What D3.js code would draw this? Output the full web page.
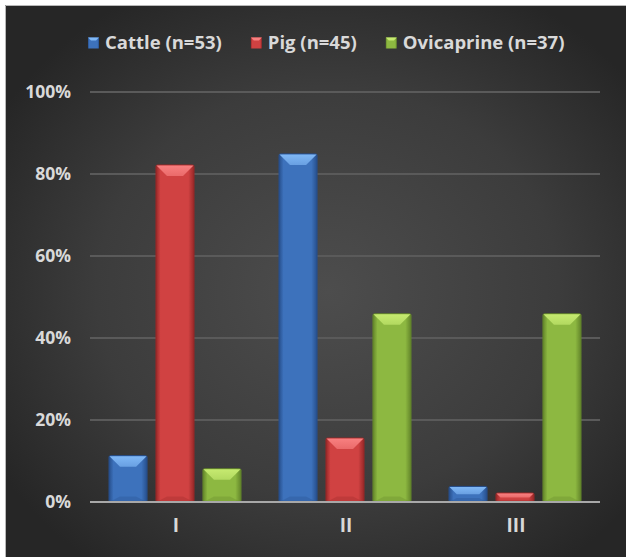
<!DOCTYPE html>
<html>
<head>
<meta charset="utf-8">
<script src="https://cdn.jsdelivr.net/npm/d3@7"></script>
<style>
  html, body { margin: 0; padding: 0; background: #fff; }
  svg { display: block; }
  text { font-family: "Open Sans", "Noto Sans", sans-serif; font-weight: bold; fill: #d9d9d9; }
</style>
</head>
<body>
<div id="chart"></div>
<script>
// 데이터
const categories = ['I', 'II', 'III'];
const seriesNames = ['Cattle (n=53)', 'Pig (n=45)', 'Ovicaprine (n=37)'];
const cattleValues = [11.3, 84.9, 3.8];
const pigValues = [82.2, 15.6, 2.2];
const ovicaprineValues = [8.1, 45.9, 45.9];
const yTicks = [0, 20, 40, 60, 80, 100];
const tickLabels = ['0%', '20%', '40%', '60%', '80%', '100%'];

const seriesValues = [cattleValues, pigValues, ovicaprineValues];
// 색상: [몸통, 밝은 윗면, 어두운 가장자리]
const palette = [
    ['#3d72bc', '#80b8f6', '#274f8c'],
    ['#d04242', '#f88080', '#972828'],
    ['#8db841', '#c6ea70', '#63852a']
];

const W = 626, H = 557;
const margin = { top: 92, right: 26, bottom: 55, left: 90 };
const FONT = '"Open Sans", "Noto Sans", sans-serif';

const svg = d3.select('#chart').append('svg')
    .attr('width', W)
    .attr('height', H);

const defs = svg.append('defs');
const bg = defs.append('radialGradient').attr('id', 'bg')
    .attr('cx', '52%').attr('cy', '52%').attr('r', '62%');
bg.append('stop').attr('offset', '0%').attr('stop-color', '#4d4d4d');
bg.append('stop').attr('offset', '60%').attr('stop-color', '#3c3c3c');
bg.append('stop').attr('offset', '100%').attr('stop-color', '#262626');

palette.forEach((c, i) => {
    const g = defs.append('linearGradient').attr('id', 'bar' + i)
        .attr('x1', '0%').attr('x2', '100%').attr('y1', '0%').attr('y2', '0%');
    g.append('stop').attr('offset', '0%').attr('stop-color', c[2]);
    g.append('stop').attr('offset', '12%').attr('stop-color', c[0]);
    g.append('stop').attr('offset', '85%').attr('stop-color', c[0]);
    g.append('stop').attr('offset', '100%').attr('stop-color', c[2]);
    const t = defs.append('linearGradient').attr('id', 'top' + i)
        .attr('x1', '0%').attr('x2', '0%').attr('y1', '0%').attr('y2', '100%');
    t.append('stop').attr('offset', '0%').attr('stop-color', c[1]);
    t.append('stop').attr('offset', '100%').attr('stop-color', d3.interpolateRgb(c[1], c[0])(0.35));
});

// 배경 + 테두리
svg.append('rect').attr('x', 5).attr('y', 5).attr('width', W - 5).attr('height', H - 5)
    .attr('fill', 'url(#bg)');
svg.append('path').attr('d', `M5.5,${H}V5.5H${W}`)
    .attr('fill', 'none').attr('stroke', '#b8b8b8').attr('stroke-width', 1);

const x0 = d3.scaleBand()
    .domain(categories)
    .range([margin.left, W - margin.right]);

const x1 = d3.scaleBand()
    .domain(seriesNames)
    .range([19, x0.bandwidth() - 19])
    .paddingInner(0.19);

const y = d3.scaleLinear()
    .domain([0, 100])
    .range([H - margin.bottom, margin.top]);

// 눈금선
svg.append('g').selectAll('line')
    .data(yTicks.filter(d => d > 0))
    .enter().append('line')
    .attr('x1', margin.left).attr('x2', W - margin.right)
    .attr('y1', d => y(d)).attr('y2', d => y(d))
    .attr('stroke', '#5a5a5a').attr('stroke-width', 2);

// y축 라벨
const yAxis = svg.append('g')
    .attr('transform', `translate(${margin.left - 19},0)`)
    .call(d3.axisLeft(y).tickValues(yTicks).tickSize(0).tickPadding(0)
        .tickFormat((d, i) => tickLabels[i]));
yAxis.select('.domain').remove();
yAxis.selectAll('text')
    .attr('fill', '#d9d9d9')
    .style('font-size', '17.5px')
    .style('font-family', FONT)
    .style('font-weight', 'bold');

// 막대
const groups = svg.append('g').selectAll('g')
    .data(categories)
    .enter().append('g')
    .attr('transform', d => `translate(${x0(d)},0)`);

groups.each(function(cat, ci) {
    const g = d3.select(this);
    seriesNames.forEach((s, si) => {
        const v = seriesValues[si][ci];
        const bx = x1(s), bw = x1.bandwidth();
        const by = y(v), bh = y(0) - y(v);
        const bev = Math.min(11, bh / 2);
        const c = palette[si];
        const bar = g.append('g');
        bar.append('rect')
            .attr('x', bx).attr('y', by).attr('width', bw).attr('height', bh)
            .attr('rx', 1.5)
            .attr('fill', `url(#bar${si})`)
            .attr('stroke', c[2]).attr('stroke-width', 1);
        bar.append('path')
            .attr('d', `M${bx + 0.5},${by + 0.5}H${bx + bw - 0.5}L${bx + bw - bev},${by + bev}H${bx + bev}Z`)
            .attr('fill', `url(#top${si})`);
        bar.append('path')
            .attr('d', `M${bx + 0.5},${by + bh}H${bx + bw - 0.5}L${bx + bw - bev},${by + bh - bev / 2}H${bx + bev}Z`)
            .attr('fill', c[2]).attr('opacity', 0.3);
    });
});

// 기준선
svg.append('line')
    .attr('x1', margin.left).attr('x2', W - margin.right)
    .attr('y1', y(0)).attr('y2', y(0))
    .attr('stroke', '#a8a8a8').attr('stroke-width', 2);

// x축 라벨
const xAxis = svg.append('g')
    .attr('transform', `translate(1,${y(0) + 16})`)
    .call(d3.axisBottom(x0).tickSize(0).tickPadding(0));
xAxis.select('.domain').remove();
xAxis.selectAll('text')
    .attr('fill', '#d9d9d9')
    .style('font-size', '19px')
    .style('font-family', FONT)
    .style('font-weight', 'bold');

// 범례
const legend = svg.append('g').attr('transform', 'translate(88,43)');
let lx = 0;
seriesNames.forEach((s, i) => {
    const c = palette[i];
    const item = legend.append('g').attr('transform', `translate(${lx},0)`);
    item.append('rect').attr('x', 0).attr('y', -5.5).attr('width', 11).attr('height', 11)
        .attr('fill', `url(#bar${i})`);
    item.append('path').attr('d', 'M0,-5.5H11L8,-2.5H3Z').attr('fill', c[1]);
    const t = item.append('text').attr('x', 17).attr('dy', '0.35em')
        .style('font-size', '18.5px').text(s);
    lx += 17 + t.node().getComputedTextLength() + 29;
});
</script>
</body>
</html>
